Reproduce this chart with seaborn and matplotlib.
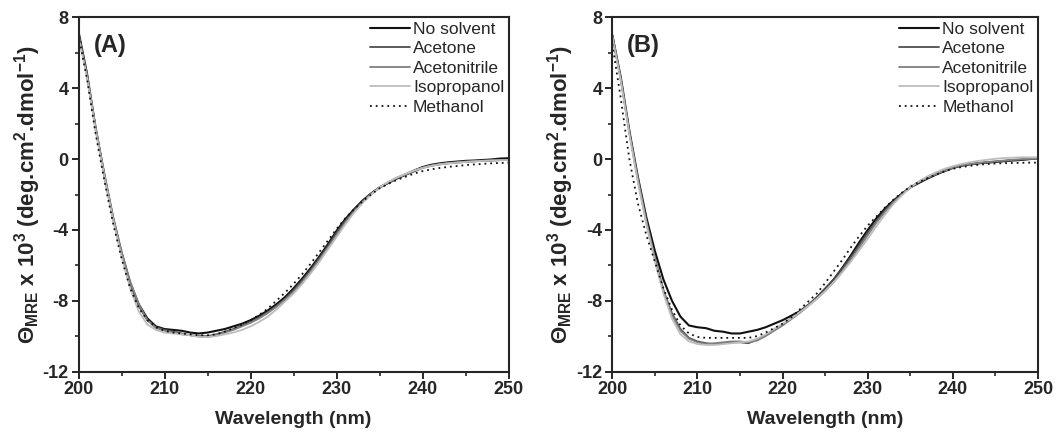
# CD spectra of the protein with and without organic solvents, panels (A) and (B)

import numpy as np
import pandas as pd
import matplotlib
matplotlib.use("Agg")
import matplotlib.pyplot as plt
from matplotlib.ticker import MultipleLocator
import seaborn as sns

wavelength = list(range(200, 251))

solvents = ["No solvent", "Acetone", "Acetonitrile", "Isopropanol", "Methanol"]

# panel A
A_none = [7.2, 4.8, 1.7, -0.9, -3.3, -5.3, -7.0, -8.2, -9.0, -9.45,
          -9.6, -9.65, -9.7, -9.8, -9.85, -9.8, -9.7, -9.6, -9.45, -9.3,
          -9.1, -8.85, -8.55, -8.2, -7.8, -7.3, -6.75, -6.15, -5.5, -4.8,
          -4.05, -3.4, -2.85, -2.35, -1.95, -1.6, -1.35, -1.1, -0.88, -0.65,
          -0.45, -0.32, -0.24, -0.18, -0.14, -0.1, -0.08, -0.05, -0.02, 0.03, 0.05]
A_acetone = [7.1, 4.7, 1.7, -0.9, -3.3, -5.3, -7.0, -8.3, -9.1, -9.5,
             -9.65, -9.75, -9.85, -9.95, -10.0, -10.0, -9.9, -9.75, -9.6, -9.4,
             -9.2, -8.95, -8.65, -8.3, -7.9, -7.4, -6.85, -6.25, -5.6, -4.9,
             -4.15, -3.5, -2.9, -2.4, -1.95, -1.6, -1.35, -1.1, -0.9, -0.7,
             -0.5, -0.38, -0.3, -0.24, -0.2, -0.16, -0.13, -0.1, -0.08, -0.06, -0.05]
A_acetonitrile = [7.0, 4.7, 1.8, -0.8, -3.2, -5.2, -6.9, -8.2, -9.1, -9.55,
                  -9.7, -9.8, -9.9, -9.95, -10.0, -10.05, -9.95, -9.8, -9.65, -9.45,
                  -9.25, -9.0, -8.7, -8.35, -7.95, -7.5, -6.95, -6.35, -5.7, -5.0,
                  -4.3, -3.6, -3.0, -2.45, -2.0, -1.6, -1.3, -1.05, -0.85, -0.65,
                  -0.48, -0.36, -0.28, -0.22, -0.18, -0.14, -0.11, -0.09, -0.07, -0.06, -0.05]
A_isopropanol = [6.9, 4.6, 1.6, -1.0, -3.4, -5.5, -7.3, -8.6, -9.35, -9.65,
                 -9.8, -9.85, -9.9, -9.95, -10.05, -10.05, -10.0, -9.9, -9.8, -9.65,
                 -9.45, -9.2, -8.9, -8.5, -8.05, -7.6, -7.05, -6.45, -5.8, -5.1,
                 -4.4, -3.7, -3.05, -2.5, -2.0, -1.6, -1.3, -1.05, -0.85, -0.65,
                 -0.5, -0.38, -0.3, -0.24, -0.2, -0.16, -0.13, -0.1, -0.08, -0.06, -0.05]
A_methanol = [7.0, 4.5, 1.4, -1.2, -3.6, -5.6, -7.3, -8.4, -9.1, -9.5,
              -9.7, -9.8, -9.85, -9.9, -9.95, -9.95, -9.9, -9.75, -9.55, -9.35,
              -9.1, -8.8, -8.45, -8.0, -7.55, -7.05, -6.5, -5.9, -5.25, -4.6,
              -3.95, -3.35, -2.85, -2.4, -2.0, -1.65, -1.4, -1.18, -1.0, -0.82,
              -0.68, -0.58, -0.5, -0.44, -0.39, -0.34, -0.3, -0.27, -0.24, -0.22, -0.2]

# panel B
B_none = [7.0, 4.6, 1.6, -1.0, -3.3, -5.2, -6.8, -8.0, -8.9, -9.4,
          -9.5, -9.55, -9.7, -9.75, -9.85, -9.85, -9.75, -9.65, -9.5, -9.3,
          -9.1, -8.85, -8.6, -8.25, -7.85, -7.35, -6.8, -6.15, -5.45, -4.7,
          -4.0, -3.35, -2.8, -2.35, -1.95, -1.6, -1.35, -1.1, -0.88, -0.68,
          -0.5, -0.38, -0.3, -0.24, -0.2, -0.16, -0.12, -0.08, -0.05, 0.0, 0.05]
B_acetone = [7.0, 4.5, 1.5, -1.2, -3.6, -5.6, -7.4, -8.7, -9.6, -10.1,
             -10.3, -10.4, -10.45, -10.4, -10.35, -10.35, -10.4, -10.2, -9.95, -9.65,
             -9.35, -9.0, -8.65, -8.25, -7.8, -7.3, -6.8, -6.2, -5.55, -4.85,
             -4.15, -3.5, -2.9, -2.4, -2.0, -1.6, -1.3, -1.05, -0.85, -0.65,
             -0.48, -0.36, -0.28, -0.22, -0.18, -0.14, -0.1, -0.06, -0.03, 0.0, 0.03]
B_acetonitrile = [7.0, 4.5, 1.5, -1.1, -3.5, -5.6, -7.4, -8.8, -9.7, -10.15,
                  -10.35, -10.45, -10.4, -10.35, -10.3, -10.3, -10.35, -10.25, -10.0, -9.7,
                  -9.4, -9.05, -8.7, -8.3, -7.9, -7.45, -6.95, -6.35, -5.7, -5.0,
                  -4.3, -3.6, -3.0, -2.45, -2.0, -1.6, -1.3, -1.05, -0.85, -0.65,
                  -0.48, -0.36, -0.28, -0.22, -0.17, -0.12, -0.08, -0.04, 0.0, 0.02, 0.04]
B_isopropanol = [6.9, 4.4, 1.4, -1.3, -3.7, -5.8, -7.6, -9.0, -9.9, -10.3,
                 -10.45, -10.5, -10.5, -10.45, -10.4, -10.35, -10.3, -10.15, -9.9, -9.6,
                 -9.3, -9.0, -8.65, -8.3, -7.9, -7.45, -6.95, -6.4, -5.8, -5.15,
                 -4.5, -3.8, -3.15, -2.55, -2.05, -1.6, -1.25, -0.98, -0.75, -0.55,
                 -0.4, -0.28, -0.18, -0.1, -0.04, 0.02, 0.06, 0.08, 0.1, 0.1, 0.1]
B_methanol = [6.5, 3.4, 0.0, -2.5, -4.3, -5.8, -7.3, -8.5, -9.4, -9.85,
              -10.05, -10.1, -10.1, -10.1, -10.1, -10.1, -10.1, -10.0, -9.8, -9.55,
              -9.3, -8.95, -8.5, -8.05, -7.6, -7.0, -6.35, -5.7, -5.0, -4.35,
              -3.75, -3.25, -2.75, -2.3, -1.9, -1.55, -1.3, -1.08, -0.88, -0.7,
              -0.55, -0.45, -0.38, -0.32, -0.28, -0.25, -0.23, -0.22, -0.21, -0.2, -0.2]

panelA = [A_none, A_acetone, A_acetonitrile, A_isopropanol, A_methanol]
panelB = [B_none, B_acetone, B_acetonitrile, B_isopropanol, B_methanol]

colors = ["#111111", "#4e4e4e", "#808080", "#bdbdbd", "#111111"]
styles = ["-", "-", "-", "-", (0, (1, 2.2))]
widths = [1.5, 1.3, 1.3, 1.3, 1.3]

sns.set_style("ticks")
plt.rcParams["font.family"] = ["Liberation Sans", "DejaVu Sans"]
plt.rcParams["axes.unicode_minus"] = False
plt.rcParams["mathtext.fontset"] = "custom"
plt.rcParams["mathtext.rm"] = "Liberation Sans:bold"
plt.rcParams["mathtext.bf"] = "Liberation Sans:bold"
plt.rcParams["mathtext.it"] = "Liberation Sans:bold"

fig = plt.figure(figsize=(10.64, 4.33), dpi=100)
axA = fig.add_axes([0.0738, 0.142, 0.4042, 0.8176])
axB = fig.add_axes([0.5755, 0.142, 0.4001, 0.8176])

ylab = r"$\Theta_{\mathrm{MRE}}$ x 10$^{3}$ (deg.cm$^{2}$.dmol$^{-1}$)"

for ax, data, tag in [(axA, panelA, "(A)"), (axB, panelB, "(B)")]:
    for name, vals, c, ls, lw in zip(solvents, data, colors, styles, widths):
        sns.lineplot(x=wavelength, y=vals, color=c, linestyle=ls, linewidth=lw,
                     label=name, ax=ax)
    ax.set_xlim(200, 250)
    ax.set_ylim(-12, 8)
    ax.xaxis.set_major_locator(MultipleLocator(10))
    ax.xaxis.set_minor_locator(MultipleLocator(5))
    ax.yaxis.set_major_locator(MultipleLocator(4))
    ax.yaxis.set_minor_locator(MultipleLocator(2))
    ax.tick_params(which="major", direction="out", length=5, width=1.4,
                   labelsize=13, pad=2)
    ax.tick_params(which="minor", direction="out", length=3, width=1.2)
    for lab in ax.get_xticklabels() + ax.get_yticklabels():
        lab.set_fontweight("bold")
    for s in ax.spines.values():
        s.set_linewidth(1.5)
        s.set_visible(True)
    ax.set_xlabel("Wavelength (nm)", fontsize=14, fontweight="bold", labelpad=9)
    ax.set_ylabel(ylab, fontsize=16, fontweight="bold", labelpad=0)
    ax.text(0.035, 0.92, tag, transform=ax.transAxes, fontsize=17,
            fontweight="bold", va="center", ha="left")
    ax.legend(loc="upper right", frameon=False, fontsize=12.5, handlelength=2.3,
              handletextpad=0.2, labelspacing=0.25, borderaxespad=0.0,
              borderpad=0.25)

fig.savefig("out.png", dpi=100)
